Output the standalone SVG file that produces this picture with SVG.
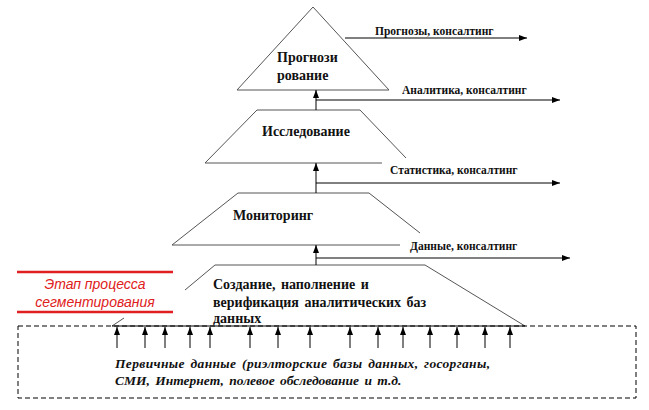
<svg xmlns="http://www.w3.org/2000/svg" width="649" height="410" viewBox="0 0 649 410">
<defs><marker id="a" markerWidth="8" markerHeight="6" refX="8" refY="3" orient="auto" markerUnits="userSpaceOnUse"><path d="M0,0L8,3L0,6z" fill="#000"/></marker></defs>
<style>
.s{fill:none;stroke:#555;stroke-width:1}
.c{stroke:#000;stroke-width:1;fill:none;marker-end:url(#a)}
text{font-family:"Liberation Serif",serif;font-weight:bold;fill:#111}
.l{font-size:11.5px}.n{font-size:14px}
.r{font-family:"Liberation Sans",sans-serif;font-weight:normal;font-style:italic;fill:#e02020;font-size:14px}
.p{font-style:italic;font-size:13.5px;word-spacing:2px}
</style>
<rect width="649" height="410" fill="#fff"/>
<g id="n1"><path class="s" d="M313,7L237,90M313,7L389,90M237,90H389"/><text class="n" x="277" y="62">Прогнози</text><text class="n" x="277" y="80">рование</text></g>
<g id="n2"><path class="s" d="M257,110H360M257,110L205,163H382M360,110L406,158"/><text class="n" x="262" y="136">Исследование</text></g>
<g id="n3"><path class="s" d="M238,193H369M238,193L172,245H400M369,193L420,233"/><text class="n" x="233" y="220">Мониторинг</text></g>
<g id="n4"><path class="s" d="M215,265H425L525,326M215,265L185,290M124,318L112,326"/><text class="n" x="213" y="289" style="word-spacing:2px">Создание, наполнение  и</text><text class="n" x="213" y="307" style="word-spacing:2px">верификация аналитических баз</text><text class="n" x="213" y="323">данных</text></g>
<g id="stage"><path d="M17,272H173M17,312H173" stroke="#e02020" stroke-width="2.5"/><text class="r" x="95" y="289" text-anchor="middle">Этап процесса</text><text class="r" x="95" y="307" text-anchor="middle">сегментирования</text></g>
<g id="src"><rect x="18" y="326" width="618" height="72" fill="none" stroke="#000" stroke-dasharray="5,3"/><text class="p" x="115" y="368" textLength="375">Первичные данные (риэлторские  базы данных, госорганы,</text><text class="p" x="115" y="385">СМИ, Интернет, полевое обследование  и т.д.</text></g>
<g id="connectors">
<path d="M112,326H525" stroke="#000"/>
<path class="c" d="M117,348V327"/><path class="c" d="M145,348V327"/><path class="c" d="M165,348V327"/><path class="c" d="M190,348V327"/><path class="c" d="M210,348V327"/><path class="c" d="M250,348V327"/><path class="c" d="M278,348V327"/><path class="c" d="M310,348V327"/><path class="c" d="M350,348V327"/><path class="c" d="M378,348V327"/><path class="c" d="M403,348V327"/><path class="c" d="M430,348V327"/><path class="c" d="M457,348V327"/><path class="c" d="M485,348V327"/><path class="c" d="M510,348V327"/>
<path class="c" d="M316,265V245"/><path class="c" d="M316,258H570"/>
<path class="c" d="M316,193V163"/><path class="c" d="M316,183H560"/>
<path class="c" d="M316,110V90"/><path class="c" d="M316,100H560"/>
<path class="c" d="M345,38H527"/>
</g>
<text class="l" x="375" y="35">Прогнозы, консалтинг</text>
<text class="l" x="402" y="94">Аналитика, консалтинг</text>
<text class="l" x="390" y="174">Статистика, консалтинг</text>
<text class="l" x="410" y="250">Данные, консалтинг</text>
</svg>
